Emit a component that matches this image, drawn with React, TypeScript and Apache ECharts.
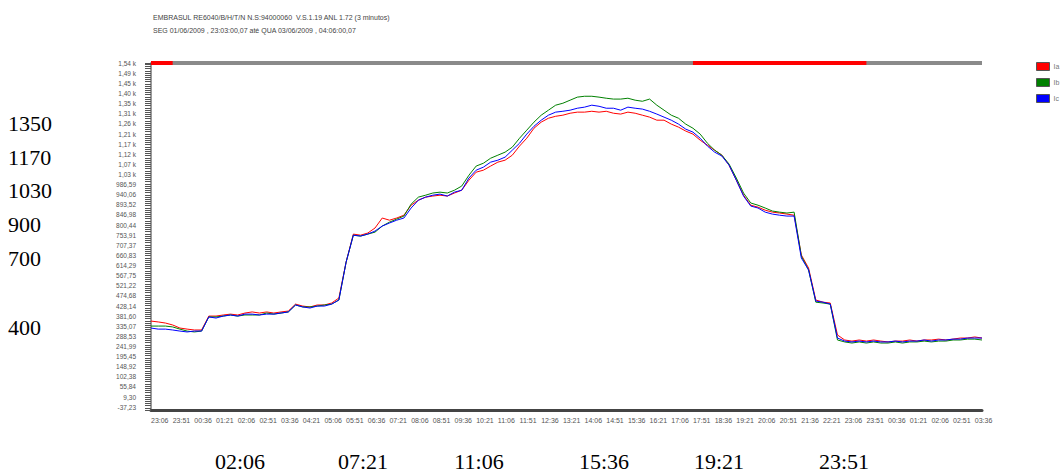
import React, { useEffect, useRef } from "react";
import * as echarts from "echarts";

const TITLE = "EMBRASUL RE6040/B/H/T/N N.S:94000060  V.S.1.19 ANL 1.72 (3 minutos)";
const SUBTITLE = "SEG 01/06/2009 , 23:03:00,07 até QUA 03/06/2009 , 04:06:00,07";

const TIMES = [
  "23:06", "23:21", "23:36", "23:51",
  "00:06", "00:21", "00:36", "00:51", "01:06", "01:21", "01:36", "01:51",
  "02:06", "02:21", "02:36", "02:51", "03:06", "03:21", "03:36", "03:51",
  "04:06", "04:21", "04:36", "04:51", "05:06", "05:21", "05:36", "05:51",
  "06:06", "06:21", "06:36", "06:51", "07:06", "07:21", "07:36", "07:51",
  "08:06", "08:21", "08:36", "08:51", "09:06", "09:21", "09:36", "09:51",
  "10:06", "10:21", "10:36", "10:51", "11:06", "11:21", "11:36", "11:51",
  "12:06", "12:21", "12:36", "12:51", "13:06", "13:21", "13:36", "13:51",
  "14:06", "14:21", "14:36", "14:51", "15:06", "15:21", "15:36", "15:51",
  "16:06", "16:21", "16:36", "16:51", "17:06", "17:21", "17:36", "17:51",
  "18:06", "18:21", "18:36", "18:51", "19:06", "19:21", "19:36", "19:51",
  "20:06", "20:21", "20:36", "20:51", "21:06", "21:21", "21:36", "21:51",
  "22:06", "22:21", "22:36", "22:51", "23:06", "23:21", "23:36", "23:51",
  "00:06", "00:21", "00:36", "00:51", "01:06", "01:21", "01:36", "01:51",
  "02:06", "02:21", "02:36", "02:51", "03:06", "03:21", "03:36", "03:51",
];

const IA = [
  359, 355, 350, 341, 327, 322, 318, 318, 382, 382, 387, 391, 387, 396, 401, 396,
  401, 396, 401, 405, 437, 428, 424, 433, 433, 442, 465, 630, 759, 754, 764, 787,
  833, 823, 833, 846, 892, 915, 929, 934, 938, 934, 948, 961, 1007, 1044, 1053, 1072,
  1090, 1099, 1122, 1164, 1200, 1246, 1274, 1292, 1301, 1306, 1315, 1320, 1320, 1324, 1320, 1324,
  1315, 1311, 1320, 1315, 1306, 1297, 1283, 1283, 1265, 1251, 1233, 1219, 1191, 1168, 1145, 1122,
  1076, 1007, 938, 892, 883, 869, 860, 856, 851, 846, 663, 603, 456, 446, 442, 295,
  272, 267, 272, 267, 272, 267, 263, 267, 267, 272, 267, 272, 272, 276, 272, 276,
  281, 281, 286, 281,
];

const IB = [
  336, 336, 336, 332, 322, 313, 309, 313, 378, 378, 382, 387, 382, 387, 387, 387,
  396, 391, 396, 401, 433, 424, 424, 428, 433, 437, 456, 630, 754, 750, 759, 768,
  796, 814, 828, 842, 897, 929, 938, 948, 952, 948, 961, 980, 1030, 1072, 1085, 1108,
  1122, 1136, 1159, 1200, 1237, 1274, 1306, 1329, 1352, 1361, 1375, 1389, 1393, 1393, 1389, 1384,
  1380, 1380, 1384, 1375, 1370, 1380, 1352, 1329, 1306, 1292, 1265, 1246, 1219, 1177, 1145, 1122,
  1081, 1017, 948, 902, 892, 879, 865, 860, 856, 860, 658, 594, 446, 442, 437, 272,
  263, 258, 263, 258, 263, 258, 258, 263, 258, 263, 263, 267, 263, 267, 267, 272,
  272, 276, 276, 272,
];

const IC = [
  327, 322, 322, 318, 313, 309, 313, 313, 378, 373, 382, 387, 382, 391, 391, 387,
  391, 391, 396, 401, 433, 424, 419, 428, 428, 437, 456, 630, 754, 750, 759, 773,
  796, 810, 823, 833, 879, 915, 929, 938, 943, 934, 952, 961, 1017, 1053, 1067, 1090,
  1099, 1113, 1145, 1177, 1219, 1255, 1283, 1306, 1320, 1324, 1329, 1338, 1343, 1352, 1347, 1338,
  1338, 1329, 1343, 1338, 1334, 1324, 1311, 1297, 1283, 1265, 1242, 1228, 1200, 1164, 1136, 1118,
  1076, 1007, 934, 888, 879, 860, 851, 846, 842, 842, 649, 594, 451, 446, 437, 281,
  267, 263, 267, 263, 267, 263, 263, 267, 263, 267, 267, 272, 267, 272, 272, 276,
  276, 281, 281, 281,
];

// alarm periods (index ranges into TIMES) shown as red on the status strip
const ALARM_PERIODS = [
  [0, 3],
  [75, 99],
];

const Y_MIN = -50;
const Y_MAX = 1546;

const Y_TICK_VALUES = [
  -37.23, 9.3, 55.84, 102.38, 148.92, 195.45, 241.99, 288.53, 335.07, 381.6, 428.14, 474.68,
  521.22, 567.75, 614.29, 660.83, 707.37, 753.91, 800.44, 846.98, 893.52, 940.06, 986.59,
  1033.13, 1079.67, 1126.21, 1172.75, 1219.28, 1265.82, 1312.36, 1358.9, 1405.44, 1451.97,
  1498.51, 1545.05,
];
const Y_TICK_LABELS = [
  "-37,23", "9,30", "55,84", "102,38", "148,92", "195,45", "241,99", "288,53", "335,07", "381,60",
  "428,14", "474,68", "521,22", "567,75", "614,29", "660,83", "707,37", "753,91", "800,44",
  "846,98", "893,52", "940,06", "986,59", "1,03 k", "1,07 k", "1,12 k", "1,17 k", "1,21 k",
  "1,26 k", "1,31 k", "1,35 k", "1,40 k", "1,45 k", "1,49 k", "1,54 k",
];

const LEFT_NOTES = ["1350", "1170", "1030", "900", "700", "400"];
const BOTTOM_NOTES = ["02:06", "07:21", "11:06", "15:36", "19:21", "23:51"];

const SANS = '"Liberation Sans", Arial, sans-serif';
const SERIF = '"Liberation Serif", "Times New Roman", serif';

export default function App() {
  const ref = useRef<HTMLDivElement | null>(null);

  useEffect(() => {
    if (!ref.current) return;
    document.body.style.margin = "0";
    const chart = echarts.init(ref.current, null, { renderer: "svg" });

    const statusGray = TIMES.map(() => Y_MAX);
    const statusRed = TIMES.map((_, i) =>
      ALARM_PERIODS.some(([a, b]) => i >= a && i <= b) ? Y_MAX : null
    );

    const leftY = [123, 157, 190, 224, 258, 327];
    const bottomX = [240, 363, 479, 604, 719, 844];

    const lineSeries = (name: string, data: number[], color: string) => ({
      name,
      type: "line",
      data,
      yAxisIndex: 0,
      symbol: "none",
      lineStyle: { color, width: 1 },
      itemStyle: { color },
    });

    chart.setOption({
      animation: false,
      backgroundColor: "#ffffff",
      title: {
        text: TITLE,
        subtext: SUBTITLE,
        left: 148,
        top: 9,
        itemGap: 6,
        textStyle: { fontSize: 7, fontWeight: "normal", color: "#444", fontFamily: SANS },
        subtextStyle: { fontSize: 7, color: "#444", fontFamily: SANS },
      },
      legend: {
        data: ["Ia", "Ib", "Ic"],
        orient: "vertical",
        left: 1036,
        top: 62,
        padding: 0,
        itemGap: 7,
        itemWidth: 13,
        itemHeight: 8,
        icon: "rect",
        itemStyle: { borderColor: "#555", borderWidth: 1 },
        textStyle: { fontSize: 7, color: "#777", fontFamily: SANS, padding: [0, 0, 0, -1] },
      },
      grid: { left: 151, right: 82, top: 63, bottom: 64, containLabel: false },
      xAxis: {
        type: "category",
        data: TIMES,
        boundaryGap: false,
        axisLine: { show: true, onZero: false, lineStyle: { color: "#444", width: 3 } },
        axisTick: { show: false },
        axisLabel: {
          interval: 2,
          fontSize: 7,
          color: "#555",
          align: "left",
          margin: 7,
          fontFamily: SANS,
        },
        splitLine: { show: false },
      },
      yAxis: [
        {
          type: "value",
          position: "left",
          min: Y_MIN,
          max: Y_MAX,
          axisLine: { show: false },
          axisTick: { show: false },
          splitLine: { show: false },
          axisLabel: {
            customValues: Y_TICK_VALUES,
            formatter: (v: number) => {
              let best = 0;
              for (let k = 0; k < Y_TICK_VALUES.length; k++) {
                if (Math.abs(Y_TICK_VALUES[k] - v) < Math.abs(Y_TICK_VALUES[best] - v)) best = k;
              }
              return Y_TICK_LABELS[best];
            },
            fontSize: 6.5,
            color: "#555",
            margin: 15,
            fontFamily: SANS,
          },
        },
        {
          type: "value",
          position: "left",
          offset: 0,
          min: Y_MIN,
          max: Y_MAX,
          interval: 10,
          axisLine: { show: true, onZero: false, lineStyle: { color: "#999", width: 2 } },
          axisTick: { show: true, length: 6, lineStyle: { color: "#555", width: 1 } },
          axisLabel: { show: false },
          splitLine: { show: false },
        },
      ],
      series: [
        {
          name: "status",
          type: "line",
          data: statusGray,
          yAxisIndex: 0,
          symbol: "none",
          clip: false,
          lineStyle: { color: "#8a8a8a", width: 4 },
          silent: true,
        },
        {
          name: "alarm",
          type: "line",
          data: statusRed,
          yAxisIndex: 0,
          symbol: "none",
          clip: false,
          connectNulls: false,
          lineStyle: { color: "#ff0000", width: 4 },
          silent: true,
        },
        lineSeries("Ia", IA, "#ff0000"),
        lineSeries("Ib", IB, "#008000"),
        lineSeries("Ic", IC, "#0000ff"),
      ],
      graphic: [
        ...LEFT_NOTES.map((t, i) => ({
          type: "text",
          x: 8,
          y: leftY[i],
          style: {
            text: t,
            font: `22px ${SERIF}`,
            fill: "#000",
            textAlign: "left",
            textVerticalAlign: "middle",
          },
        })),
        ...BOTTOM_NOTES.map((t, i) => ({
          type: "text",
          x: bottomX[i],
          y: 461,
          style: {
            text: t,
            font: `22px ${SERIF}`,
            fill: "#000",
            textAlign: "center",
            textVerticalAlign: "middle",
          },
        })),
      ],
    });

    return () => chart.dispose();
  }, []);

  return (
    <div
      ref={ref}
      style={{ position: "fixed", left: 0, top: 0, width: 1064, height: 474, background: "#fff" }}
    />
  );
}
